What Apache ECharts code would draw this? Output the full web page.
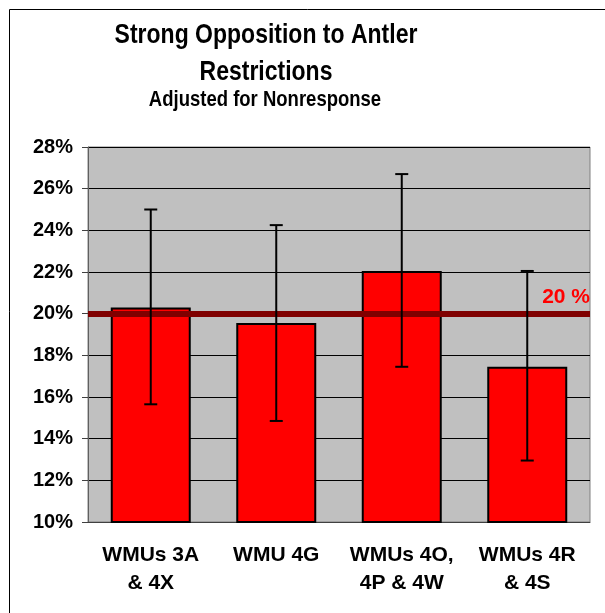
<!DOCTYPE html>
<html>
<head>
<meta charset="utf-8">
<script src="https://cdn.jsdelivr.net/npm/echarts@6/dist/echarts.min.js"></script>
<style>
  html, body { margin: 0; padding: 0; background: #fff; }
  #main { width: 605px; height: 613px; }
</style>
</head>
<body>
<div id="main"></div>
<script>
// 数据
var categories = ["WMUs 3A\n& 4X", "WMU 4G", "WMUs 4O,\n4P & 4W", "WMUs 4R\n& 4S"]
var values = [20.3, 19.55, 22.05, 17.45]
var errLow = [15.65, 14.85, 17.45, 12.95]
var errHigh = [25.0, 24.25, 26.7, 22.05]
var refValue = 20
var yTicks = { min: 10, max: 28, interval: 2 }

var font = "'Liberation Sans', Arial, sans-serif"

var myChart = echarts.init(document.getElementById("main"))

var option = {
  animation: false,
  graphic: [
    {
      type: "rect",
      shape: { x: 9.5, y: 9.5, width: 700, height: 700 },
      style: { fill: "none", stroke: "#000", lineWidth: 1 }
    },
    {
      // 标题（纵向略拉伸）
      type: "text",
      x: 266, y: 16.5,
      scaleY: 1.2,
      style: {
        text: "Strong Opposition to Antler\nRestrictions",
        font: "bold 23px " + font,
        lineHeight: 31,
        fill: "#000",
        align: "center",
        verticalAlign: "top"
      }
    },
    {
      type: "text",
      x: 265, y: 89,
      scaleY: 1.2,
      style: {
        text: "Adjusted for Nonresponse",
        font: "bold 18.5px " + font,
        lineHeight: 18.5,
        fill: "#000",
        align: "center",
        verticalAlign: "top"
      }
    }
  ],
  grid: {
    left: 88, top: 147, right: 15, bottom: 91,
    show: true,
    backgroundColor: "#c0c0c0",
    borderColor: "#808080",
    borderWidth: 1
  },
  xAxis: {
    type: "category",
    data: categories,
    axisLine: { lineStyle: { color: "#404040", width: 1 } },
    axisTick: { length: 6, lineStyle: { color: "#404040" } },
    axisLabel: {
      interval: 0,
      margin: 19,
      color: "#000",
      fontFamily: font,
      fontWeight: "bold",
      fontSize: 21,
      lineHeight: 28
    }
  },
  yAxis: {
    type: "value",
    min: yTicks.min,
    max: yTicks.max,
    interval: yTicks.interval,
    axisLine: { show: true, lineStyle: { color: "#606060" } },
    axisTick: { show: true, length: 6, lineStyle: { color: "#404040" } },
    splitLine: { lineStyle: { color: "#000", width: 1 } },
    axisLabel: {
      formatter: "{value}%",
      margin: 15,
      color: "#000",
      fontFamily: font,
      fontWeight: "bold",
      fontSize: 20
    }
  },
  series: [
    {
      type: "bar",
      data: values,
      barWidth: 80,
      itemStyle: { color: "#ff0000", borderColor: "#000", borderWidth: 2 },
      markLine: {
        silent: true,
        symbol: "none",
        lineStyle: { color: "#800000", width: 6, type: "solid" },
        label: {
          position: "insideEndTop",
          formatter: "20 %",
          color: "#ff0000",
          fontFamily: font,
          fontWeight: "bold",
          fontSize: 21,
          distance: [0, 6]
        },
        data: [{ yAxis: refValue }]
      }
    },
    {
      type: "custom",
      z: 5,
      data: categories.map(function (c, i) { return [i, errLow[i], errHigh[i]] }),
      renderItem: function (params, api) {
        var lo = api.coord([api.value(0), api.value(1)])
        var hi = api.coord([api.value(0), api.value(2)])
        var hw = 6.5
        var st = { stroke: "#000", lineWidth: 2 }
        return {
          type: "group",
          children: [
            { type: "line", shape: { x1: lo[0], y1: lo[1], x2: hi[0], y2: hi[1] }, style: st },
            { type: "line", shape: { x1: lo[0] - hw, y1: lo[1], x2: lo[0] + hw, y2: lo[1] }, style: st },
            { type: "line", shape: { x1: hi[0] - hw, y1: hi[1], x2: hi[0] + hw, y2: hi[1] }, style: st }
          ]
        }
      }
    }
  ]
}

myChart.setOption(option)
</script>
</body>
</html>
